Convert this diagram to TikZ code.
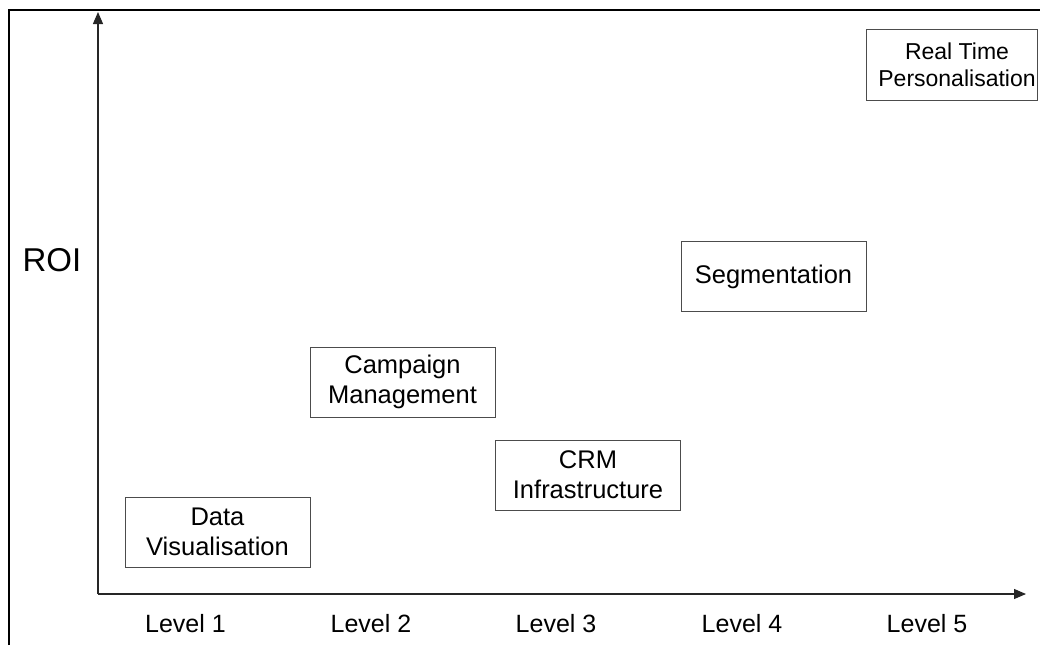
\documentclass[tikz,border=0pt]{standalone}
\usepackage{fontspec}
\setmainfont{Liberation Sans}
\usetikzlibrary{arrows.meta}
\begin{document}
\begin{tikzpicture}[x=1pt,y=-1pt,
  stage/.style={draw=black!70,line width=1pt,minimum width=185pt,minimum height=70pt,
    inner sep=0pt,align=center,font=\fontsize{25.5}{30}\selectfont},
  lvl/.style={font=\fontsize{25}{30}\selectfont,inner sep=0pt},
  axis/.style={draw=black!85,line width=1.2pt,-{Triangle[length=12pt,width=10pt]}},
  frame/.style={draw=black,line width=2pt}]
\useasboundingbox (0,0) rectangle (1040,645);
% frame
\coordinate (fb) at (9,645);
\coordinate (ft) at (9,10);
\coordinate (fr) at (1040,10);
\draw[frame] (fb) -- (ft) -- (fr);
% axes
\coordinate (o) at (98,594);
\coordinate (ytip) at (98,12);
\coordinate (xtip) at (1026,594);
\draw[axis] (o) -- (ytip);
\draw[axis] (o) -- (xtip);
% ROI
\node[font=\fontsize{33}{38}\selectfont,inner sep=0pt] (roi) at (52,260) {ROI};
% boxes
\node[stage] (dv) at (217.5,532) {Data\\Visualisation};
\node[stage] (cm) at (402.5,382) {Campaign\\Management};
\node[stage] (crm) at (588,475) {CRM\\Infrastructure};
\node[stage] (seg) at (773.5,276.5) {Segmentation};
\draw[draw=black!70,line width=1pt] (866,29) rectangle (1037,100);
\node[align=center,inner sep=0pt,font=\fontsize{23}{27}\selectfont] (rtp) at (957,64.5) {Real Time\\Personalisation};
% levels
\node[lvl] (l1) at (185.5,624) {Level 1};
\node[lvl] (l2) at (371,624) {Level 2};
\node[lvl] (l3) at (556,624) {Level 3};
\node[lvl] (l4) at (742,624) {Level 4};
\node[lvl] (l5) at (927,624) {Level 5};
\end{tikzpicture}
\end{document}
